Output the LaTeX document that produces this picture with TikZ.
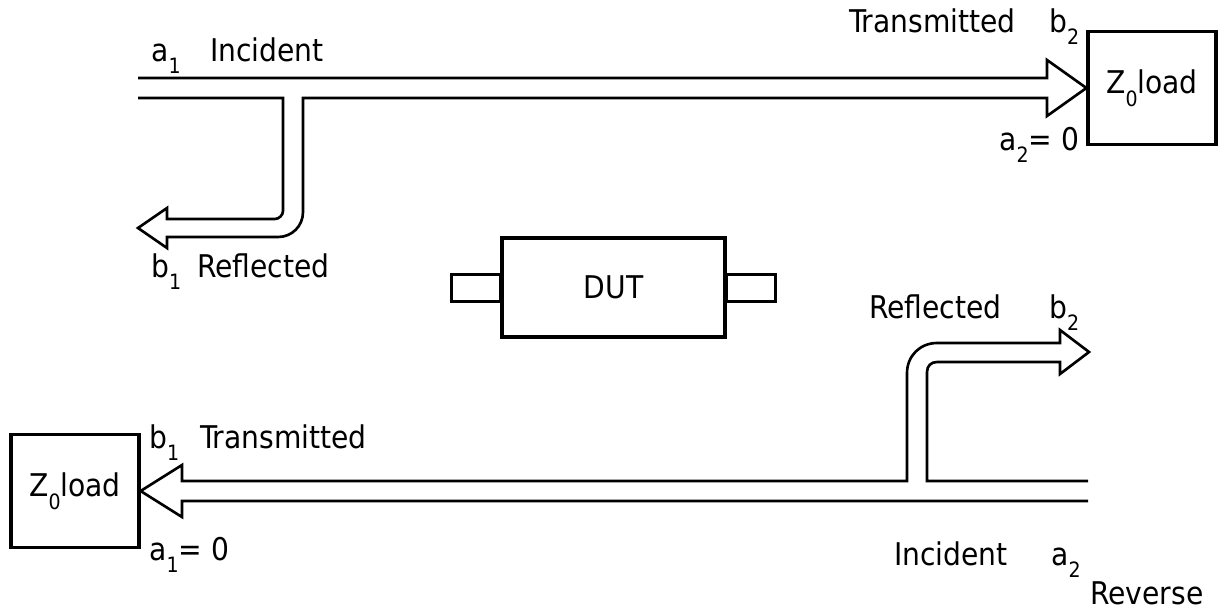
\documentclass[tikz,border=0pt]{standalone}
\usepackage{fontspec}
\setmainfont{DejaVu Sans Condensed}
\newcommand{\lowidx}[1]{\raisebox{-3.6pt}{\fontsize{6}{7}\selectfont #1}}

\begin{document}
\begin{tikzpicture}[x=0.01cm,y=-0.01cm,line width=0.75pt,
	lbl/.style={anchor=base west,inner sep=0pt,font=\fontsize{8.9}{10}\selectfont},
	loadbox/.style={draw,line width=0.9pt,minimum width=1.28cm,minimum height=1.13cm,inner sep=0pt,font=\fontsize{8.9}{10}\selectfont},
	tab/.style={draw,line width=0.9pt,minimum width=0.49cm,minimum height=0.27cm,inner sep=0pt}]
	\useasboundingbox (0,0) rectangle (1219,612);
	% loads and device
	\node[loadbox] (loadR) at (1152,88) {Z\lowidx{0}load};
	\node[loadbox] (loadL) at (75,491) {Z\lowidx{0}load};
	\node[tab,anchor=east] (tabL) at (502,288) {};
	\node[tab,anchor=west] (tabR) at (725,288) {};
	\node[draw,line width=0.9pt,minimum width=2.23cm,minimum height=0.99cm,inner sep=0pt,font=\fontsize{8.9}{10}\selectfont] (dut) at (613.5,287.5) {DUT};
	% forward
	\draw (138,78) -- (1047,78) -- (1047,60) -- (loadR.west) -- (1047,116) -- (1047,98) -- (303,98) -- (303,212) .. controls (303,226) and (292,237) .. (278,237) -- (167,237) -- (167,248) -- (138,228) -- (167,208) -- (167,219) -- (275,219) .. controls (279,219) and (283,215) .. (283,211) -- (283,98) -- (138,98);
	% reverse
	\draw (1088,501) -- (182,501) -- (182,517) -- (loadL.east) -- (182,465) -- (182,481) -- (907,481) -- (907,373) .. controls (907,356) and (920,343) .. (937,343) -- (1060,343) -- (1060,330) -- (1089,352) -- (1060,374) -- (1060,362) -- (937,362) .. controls (931,362) and (927,366) .. (927,372) -- (927,481) -- (1088,481);
	% labels
	\node[lbl] (a1f) at (150,61) {a\lowidx{1}};
	\node[lbl] (incf) at (209,61) {Incident};
	\node[lbl] (trf) at (848,32) {Transmitted};
	\node[lbl] (b2f) at (1048,32) {b\lowidx{2}};
	\node[lbl] (a2f) at (998,150) {a\lowidx{2}= 0};
	\node[lbl] (b1f) at (150,277) {b\lowidx{1}};
	\node[lbl] (reff) at (196,277) {Reflected};
	\node[lbl] (refr) at (868,318) {Reflected};
	\node[lbl] (b2r) at (1048,318) {b\lowidx{2}};
	\node[lbl] (b1r) at (148,448) {b\lowidx{1}};
	\node[lbl] (trr) at (199,448) {Transmitted};
	\node[lbl] (a1r) at (148,560) {a\lowidx{1}= 0};
	\node[lbl] (incr) at (893,565) {Incident};
	\node[lbl] (a2r) at (1050,565) {a\lowidx{2}};
	\node[lbl] (rev) at (1089,604) {Reverse};
\end{tikzpicture}
\end{document}
